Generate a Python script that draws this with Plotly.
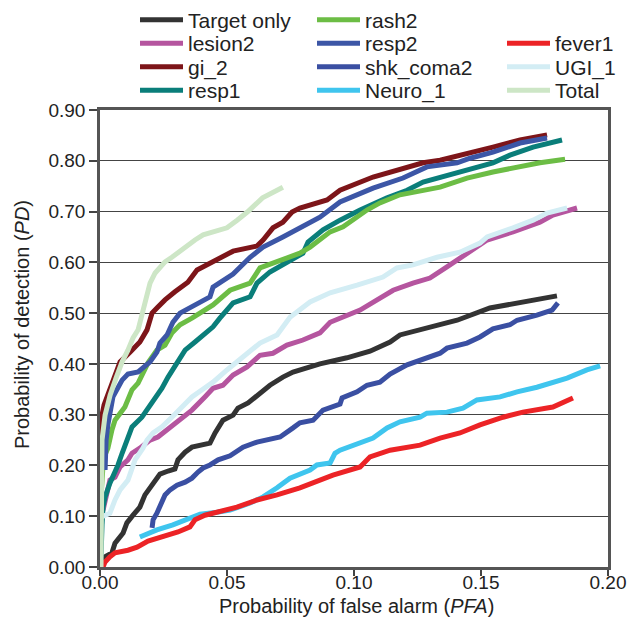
import plotly.graph_objects as go

# ---------------- data (PFA, PD) ----------------
target_x = [0.0004, 0.0020, 0.0047, 0.0059, 0.0091, 0.0106, 0.0130, 0.0157, 0.0177, 0.0205, 0.0236, 0.0268, 0.0295, 0.0307, 0.0335, 0.0362, 0.0402, 0.0433, 0.0453, 0.0484, 0.0524, 0.0543, 0.0583, 0.0630, 0.0669, 0.0720, 0.0760, 0.0866, 0.0972, 0.1063, 0.1142, 0.1181, 0.1287, 0.1406, 0.1535, 0.1681, 0.1799]
target_y = [0.002, 0.020, 0.028, 0.047, 0.067, 0.087, 0.102, 0.118, 0.142, 0.161, 0.183, 0.189, 0.193, 0.211, 0.226, 0.236, 0.240, 0.244, 0.264, 0.289, 0.299, 0.313, 0.323, 0.343, 0.358, 0.374, 0.384, 0.400, 0.412, 0.425, 0.443, 0.457, 0.471, 0.486, 0.510, 0.522, 0.534]

lesion2_x = [0.0012, 0.0028, 0.0039, 0.0059, 0.0079, 0.0110, 0.0126, 0.0157, 0.0197, 0.0228, 0.0264, 0.0307, 0.0362, 0.0413, 0.0445, 0.0484, 0.0524, 0.0579, 0.0630, 0.0681, 0.0736, 0.0799, 0.0866, 0.0906, 0.0957, 0.1024, 0.1091, 0.1154, 0.1232, 0.1299, 0.1366, 0.1445, 0.1524, 0.1626, 0.1732, 0.1783, 0.1878]
lesion2_y = [0.112, 0.142, 0.171, 0.177, 0.197, 0.211, 0.224, 0.234, 0.250, 0.256, 0.270, 0.289, 0.309, 0.335, 0.352, 0.358, 0.378, 0.394, 0.417, 0.421, 0.437, 0.447, 0.461, 0.482, 0.492, 0.506, 0.526, 0.545, 0.559, 0.569, 0.591, 0.618, 0.644, 0.660, 0.679, 0.693, 0.707]

gi2_x = [0.0000, 0.0004, 0.0008, 0.0016, 0.0031, 0.0051, 0.0079, 0.0118, 0.0157, 0.0185, 0.0205, 0.0228, 0.0256, 0.0295, 0.0323, 0.0346, 0.0382, 0.0433, 0.0524, 0.0618, 0.0642, 0.0681, 0.0720, 0.0756, 0.0787, 0.0894, 0.0945, 0.1075, 0.1169, 0.1272, 0.1339, 0.1457, 0.1547, 0.1654, 0.1760]
gi2_y = [0.240, 0.270, 0.299, 0.319, 0.339, 0.362, 0.404, 0.423, 0.443, 0.467, 0.500, 0.512, 0.526, 0.542, 0.553, 0.561, 0.585, 0.599, 0.622, 0.632, 0.644, 0.668, 0.679, 0.699, 0.707, 0.723, 0.742, 0.768, 0.782, 0.796, 0.801, 0.817, 0.827, 0.841, 0.851]

resp1_x = [0.0004, 0.0004, 0.0008, 0.0012, 0.0020, 0.0039, 0.0059, 0.0071, 0.0087, 0.0106, 0.0126, 0.0165, 0.0205, 0.0244, 0.0268, 0.0303, 0.0335, 0.0374, 0.0413, 0.0445, 0.0472, 0.0524, 0.0591, 0.0618, 0.0669, 0.0748, 0.0799, 0.0819, 0.0878, 0.0945, 0.1024, 0.1130, 0.1209, 0.1272, 0.1406, 0.1547, 0.1614, 0.1705, 0.1819]
resp1_y = [0.020, 0.043, 0.083, 0.118, 0.138, 0.165, 0.185, 0.201, 0.224, 0.250, 0.276, 0.295, 0.323, 0.352, 0.374, 0.402, 0.427, 0.443, 0.461, 0.473, 0.490, 0.520, 0.532, 0.559, 0.581, 0.605, 0.618, 0.640, 0.664, 0.683, 0.703, 0.727, 0.742, 0.758, 0.776, 0.796, 0.811, 0.827, 0.841]

rash2_x = [0.0004, 0.0008, 0.0012, 0.0020, 0.0031, 0.0047, 0.0059, 0.0098, 0.0126, 0.0150, 0.0189, 0.0224, 0.0256, 0.0283, 0.0315, 0.0362, 0.0402, 0.0445, 0.0512, 0.0591, 0.0630, 0.0697, 0.0787, 0.0827, 0.0906, 0.0957, 0.1051, 0.1102, 0.1181, 0.1339, 0.1445, 0.1547, 0.1732, 0.1831]
rash2_y = [0.138, 0.171, 0.201, 0.221, 0.234, 0.270, 0.289, 0.315, 0.349, 0.362, 0.402, 0.427, 0.437, 0.461, 0.477, 0.490, 0.502, 0.516, 0.545, 0.559, 0.589, 0.601, 0.618, 0.630, 0.660, 0.670, 0.703, 0.717, 0.733, 0.748, 0.766, 0.778, 0.796, 0.803]

resp2_x = [0.0020, 0.0024, 0.0031, 0.0039, 0.0051, 0.0087, 0.0110, 0.0150, 0.0197, 0.0224, 0.0236, 0.0264, 0.0287, 0.0315, 0.0354, 0.0394, 0.0433, 0.0445, 0.0480, 0.0524, 0.0591, 0.0642, 0.0720, 0.0787, 0.0866, 0.0945, 0.1075, 0.1193, 0.1287, 0.1406, 0.1457, 0.1547, 0.1654, 0.1760]
resp2_y = [0.191, 0.250, 0.280, 0.299, 0.335, 0.368, 0.380, 0.384, 0.404, 0.423, 0.441, 0.457, 0.482, 0.500, 0.510, 0.520, 0.532, 0.551, 0.563, 0.577, 0.610, 0.630, 0.650, 0.668, 0.689, 0.719, 0.746, 0.766, 0.788, 0.796, 0.805, 0.817, 0.835, 0.845]

shk_x = [0.0205, 0.0209, 0.0224, 0.0244, 0.0256, 0.0276, 0.0303, 0.0335, 0.0362, 0.0386, 0.0406, 0.0433, 0.0465, 0.0512, 0.0531, 0.0563, 0.0618, 0.0669, 0.0709, 0.0760, 0.0787, 0.0839, 0.0878, 0.0945, 0.0953, 0.1012, 0.1051, 0.1102, 0.1142, 0.1209, 0.1272, 0.1339, 0.1366, 0.1445, 0.1496, 0.1547, 0.1614, 0.1642, 0.1720, 0.1780, 0.1803]
shk_y = [0.077, 0.093, 0.106, 0.126, 0.142, 0.152, 0.161, 0.167, 0.175, 0.187, 0.195, 0.201, 0.211, 0.219, 0.226, 0.236, 0.246, 0.252, 0.256, 0.274, 0.284, 0.289, 0.309, 0.321, 0.333, 0.345, 0.358, 0.364, 0.380, 0.398, 0.410, 0.421, 0.431, 0.441, 0.453, 0.469, 0.477, 0.486, 0.496, 0.506, 0.520]

neuro_x = [0.0157, 0.0224, 0.0287, 0.0354, 0.0394, 0.0461, 0.0512, 0.0591, 0.0642, 0.0697, 0.0748, 0.0827, 0.0854, 0.0906, 0.0925, 0.0945, 0.1024, 0.1075, 0.1130, 0.1181, 0.1260, 0.1287, 0.1366, 0.1429, 0.1484, 0.1575, 0.1642, 0.1720, 0.1839, 0.1917, 0.1969]
neuro_y = [0.059, 0.073, 0.083, 0.096, 0.104, 0.108, 0.112, 0.126, 0.138, 0.156, 0.175, 0.191, 0.201, 0.205, 0.224, 0.230, 0.246, 0.254, 0.274, 0.286, 0.295, 0.303, 0.305, 0.313, 0.329, 0.335, 0.345, 0.354, 0.372, 0.388, 0.396]

fever1_x = [0.0012, 0.0020, 0.0039, 0.0059, 0.0110, 0.0146, 0.0189, 0.0244, 0.0307, 0.0354, 0.0374, 0.0413, 0.0484, 0.0539, 0.0618, 0.0697, 0.0787, 0.0839, 0.0917, 0.1024, 0.1063, 0.1142, 0.1260, 0.1339, 0.1417, 0.1496, 0.1587, 0.1665, 0.1783, 0.1862]
fever1_y = [0.000, 0.010, 0.020, 0.028, 0.033, 0.039, 0.051, 0.059, 0.069, 0.079, 0.093, 0.102, 0.110, 0.118, 0.132, 0.142, 0.156, 0.167, 0.181, 0.197, 0.217, 0.230, 0.240, 0.254, 0.264, 0.280, 0.295, 0.305, 0.315, 0.333]

ugi1_x = [0.0004, 0.0039, 0.0059, 0.0079, 0.0110, 0.0138, 0.0169, 0.0185, 0.0209, 0.0244, 0.0283, 0.0323, 0.0362, 0.0402, 0.0445, 0.0500, 0.0551, 0.0630, 0.0697, 0.0748, 0.0827, 0.0906, 0.1012, 0.1114, 0.1169, 0.1232, 0.1327, 0.1417, 0.1496, 0.1524, 0.1626, 0.1705, 0.1760, 0.1839]
ugi1_y = [0.098, 0.106, 0.132, 0.152, 0.171, 0.211, 0.234, 0.250, 0.264, 0.276, 0.295, 0.315, 0.335, 0.349, 0.364, 0.388, 0.408, 0.441, 0.457, 0.492, 0.522, 0.540, 0.555, 0.571, 0.589, 0.595, 0.610, 0.620, 0.638, 0.650, 0.668, 0.683, 0.697, 0.707]

total_x = [0.0004, 0.0004, 0.0008, 0.0020, 0.0040, 0.0063, 0.0087, 0.0110, 0.0130, 0.0150, 0.0177, 0.0197, 0.0217, 0.0256, 0.0283, 0.0335, 0.0374, 0.0406, 0.0453, 0.0500, 0.0540, 0.0580, 0.0640, 0.0720]
total_y = [0.000, 0.132, 0.250, 0.299, 0.339, 0.372, 0.404, 0.427, 0.451, 0.467, 0.526, 0.559, 0.579, 0.601, 0.610, 0.630, 0.644, 0.654, 0.660, 0.668, 0.683, 0.699, 0.727, 0.748]

x_ticks = [0.00, 0.05, 0.10, 0.15, 0.20]
y_ticks = [0.0, 0.1, 0.2, 0.3, 0.4, 0.5, 0.6, 0.7, 0.8, 0.9]

# name, x, y, colour, legend column, legend row
series = [
    ("Target only", target_x, target_y, "#333333", 0, 0),
    ("lesion2", lesion2_x, lesion2_y, "#b5559f", 0, 1),
    ("gi_2", gi2_x, gi2_y, "#7d1519", 0, 2),
    ("resp1", resp1_x, resp1_y, "#0a7e7a", 0, 3),
    ("rash2", rash2_x, rash2_y, "#6cbd45", 1, 0),
    ("resp2", resp2_x, resp2_y, "#3c56a6", 1, 1),
    ("shk_coma2", shk_x, shk_y, "#3a4fa2", 1, 2),
    ("Neuro_1", neuro_x, neuro_y, "#3fc5ee", 1, 3),
    ("fever1", fever1_x, fever1_y, "#ec2326", 2, 1),
    ("UGI_1", ugi1_x, ugi1_y, "#d3edf4", 2, 2),
    ("Total", total_x, total_y, "#cde6c6", 2, 3),
]

FONT = "Liberation Sans, Arial, sans-serif"
W, H = 633, 631
ML, MR, MT, MB = 100, 25, 110, 64
COL_X = [135, 312, 502]          # legend column left edges (px)
ROW_Y = [20, 43.5, 67, 90.5]     # legend row centres (px)

fig = go.Figure()
legends = {}
for i, (name, xs, ys, col, c, r) in enumerate(series):
    key = "legend" if i == 0 else f"legend{i + 1}"
    fig.add_trace(go.Scatter(x=xs, y=ys, mode="lines", name=name, legend=key,
                             showlegend=True, line=dict(color=col, width=5)))
    legends[key] = dict(font=dict(family=FONT, size=21, color="#222222"),
                        bgcolor="rgba(0,0,0,0)", xref="container", yref="container",
                        xanchor="left", yanchor="middle", visible=True,
                        x=COL_X[c] / W, y=1 - ROW_Y[r] / H, itemwidth=43)

fig.update_layout(
    width=W, height=H, showlegend=True,
    margin=dict(l=ML, r=MR, t=MT, b=MB, autoexpand=False),
    paper_bgcolor="white", plot_bgcolor="white",
    font=dict(family=FONT, size=19, color="#222222"),
    xaxis=dict(range=[0, 0.2], tickvals=x_ticks, tickformat=".2f",
               ticks="outside", ticklen=6, tickcolor="#444444", tickwidth=1.5,
               ticklabelstandoff=-10,
               showline=True, linecolor="#555555", linewidth=2.5, mirror=True,
               showgrid=False, zeroline=False, automargin=False,
               tickfont=dict(family=FONT, size=19, color="#222222")),
    yaxis=dict(range=[0, 0.9], tickvals=y_ticks, tickformat=".2f",
               ticks="outside", ticklen=8, tickcolor="#444444", tickwidth=1.5,
               showline=True, linecolor="#555555", linewidth=2.5, mirror=True,
               showgrid=True, gridcolor="#444444", gridwidth=1.3, zeroline=False,
               automargin=False,
               tickfont=dict(family=FONT, size=19, color="#222222")),
    annotations=[
        dict(text="Probability of false alarm (<i>PFA</i>)", xref="paper", yref="paper",
             x=(356 - ML) / (W - ML - MR), y=-(606 - (H - MB)) / (H - MT - MB),
             xanchor="center", yanchor="middle", showarrow=False,
             font=dict(family=FONT, size=20, color="#222222")),
        dict(text="Probability of detection (<i>PD</i>)", xref="paper", yref="paper",
             x=-(ML - 22) / (W - ML - MR), y=((H - MB) - 325) / (H - MT - MB),
             xanchor="center", yanchor="middle", textangle=-90, showarrow=False,
             font=dict(family=FONT, size=20, color="#222222")),
    ],
    **legends,
)

fig.write_html("out.html", config={"displayModeBar": False},
               post_script="document.body.style.margin='0px';")
